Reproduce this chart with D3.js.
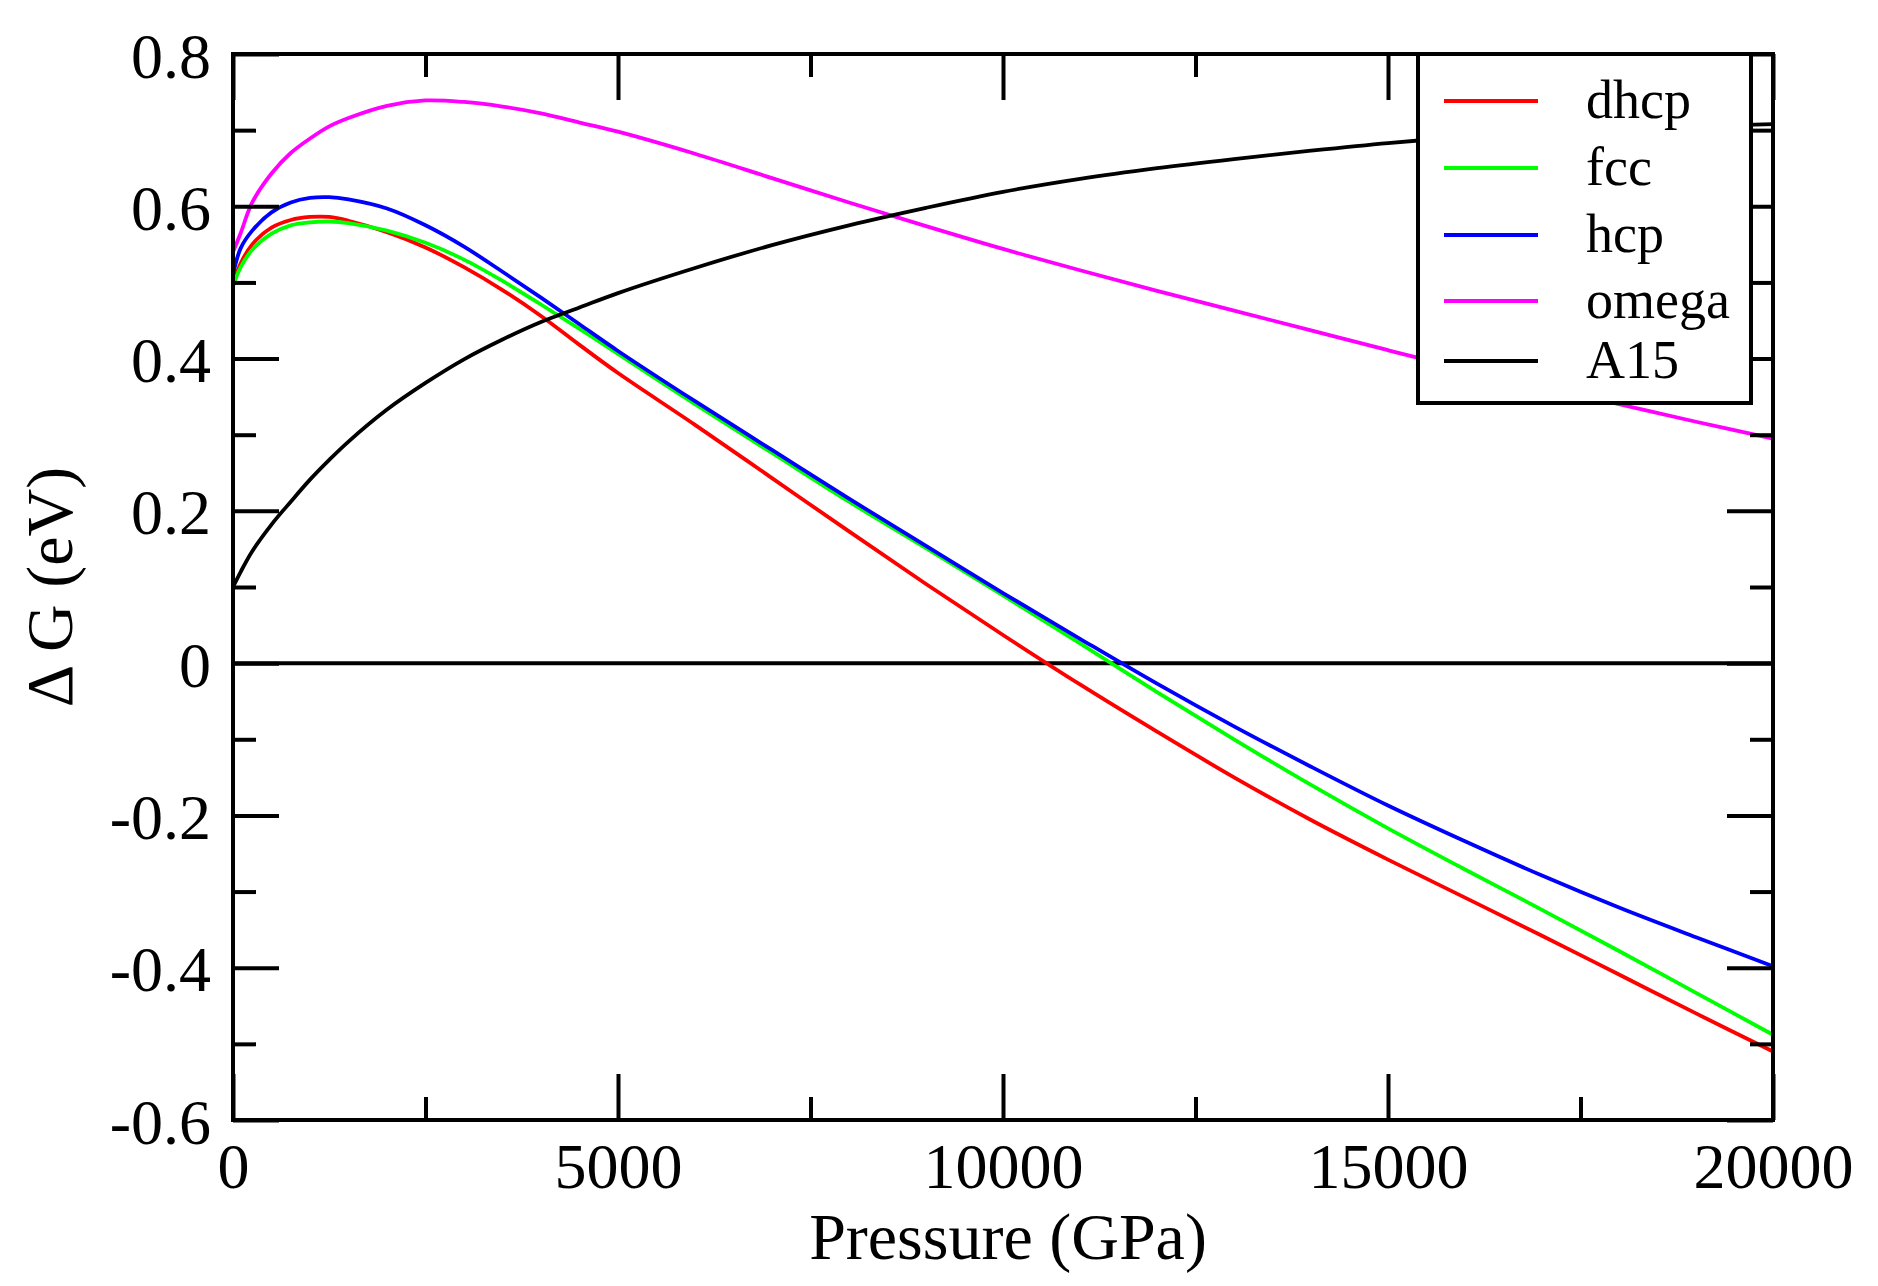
<!DOCTYPE html>
<html><head><meta charset="utf-8">
<script src="https://cdn.jsdelivr.net/npm/d3@7"></script>
<style>html,body{margin:0;padding:0;background:#fff;overflow:hidden;} svg{display:block;}</style>
</head><body>
<script>
// ---- data ----
const pressure = [0,100,250,500,750,1000,1250,1500,2000,2500,3000,3500,4000,4500,5000,6000,7000,8000,9000,10000,11000,12000,13000,14000,15000,16000,17000,18000,19000,20000];
const dhcp  = [0.497,0.525,0.550,0.572,0.582,0.586,0.586,0.581,0.566,0.546,0.520,0.490,0.456,0.418,0.381,0.313,0.243,0.173,0.104,0.037,-0.028,-0.090,-0.150,-0.206,-0.258,-0.308,-0.358,-0.409,-0.460,-0.510];
const fcc   = [0.495,0.520,0.543,0.564,0.575,0.579,0.580,0.578,0.568,0.552,0.530,0.502,0.471,0.439,0.406,0.340,0.276,0.212,0.151,0.089,0.026,-0.038,-0.100,-0.160,-0.217,-0.271,-0.324,-0.378,-0.433,-0.488];
const hcp   = [0.510,0.545,0.568,0.592,0.605,0.611,0.612,0.609,0.597,0.575,0.547,0.514,0.480,0.445,0.410,0.344,0.280,0.216,0.154,0.092,0.032,-0.027,-0.083,-0.136,-0.187,-0.234,-0.279,-0.321,-0.360,-0.398];
const omega = [0.540,0.565,0.605,0.643,0.670,0.689,0.705,0.716,0.732,0.739,0.737,0.731,0.722,0.710,0.698,0.669,0.637,0.605,0.574,0.544,0.516,0.489,0.463,0.437,0.411,0.386,0.363,0.340,0.317,0.295];
const a15   = [0.100,0.120,0.147,0.182,0.212,0.241,0.267,0.291,0.333,0.368,0.399,0.425,0.448,0.467,0.486,0.519,0.549,0.575,0.598,0.619,0.636,0.650,0.662,0.673,0.683,0.691,0.697,0.702,0.705,0.708];
const referenceLevel = 0;

const seriesNames  = ["dhcp","fcc","hcp","omega","A15"];
const seriesValues = [dhcp, fcc, hcp, omega, a15];
const seriesColors = ["#ff0000","#00ff00","#0000ff","#ff00ff","#000000"];

const xDomain = [0, 20000];
const yDomain = [-0.6, 0.8];
const xMajorTicks = [0,5000,10000,15000,20000];
const xMinorTicks = [2500,7500,12500,17500];
const yMajorTicks = [-0.6,-0.4,-0.2,0,0.2,0.4,0.6,0.8];
const yMinorTicks = [-0.5,-0.3,-0.1,0.1,0.3,0.5,0.7];
const xTitle = "Pressure (GPa)";
const yTitle = "\u0394 G (eV)";

// ---- layout ----
const W = 1878, H = 1286;
const margin = {left:233, top:54, right:105, bottom:166};
const iw = W - margin.left - margin.right;
const ih = H - margin.top - margin.bottom;
const FONT = "'Liberation Serif','Times New Roman',serif";

const svg = d3.select("body").append("svg").attr("width", W).attr("height", H);
const g = svg.append("g").attr("transform", `translate(${margin.left},${margin.top})`);

const x = d3.scaleLinear().domain(xDomain).range([0, iw]);
const y = d3.scaleLinear().domain(yDomain).range([ih, 0]);

const fmtY = d => d === 0 ? "0" : String(+d.toFixed(1));

// zero reference line (drawn first)
g.append("line")
  .attr("x1", x(xDomain[0])).attr("x2", x(xDomain[1]))
  .attr("y1", y(referenceLevel)).attr("y2", y(referenceLevel))
  .attr("stroke", "#000").attr("stroke-width", 4);

// series lines
const line = d3.line().x(d => x(d[0])).y(d => y(d[1])).curve(d3.curveCatmullRom.alpha(0.5));
seriesValues.forEach((vals, i) => {
  g.append("path")
    .datum(pressure.map((p, j) => [p, vals[j]]))
    .attr("fill", "none")
    .attr("stroke", seriesColors[i])
    .attr("stroke-width", 3.8)
    .attr("stroke-linejoin", "round")
    .attr("d", line);
});

// axes: ticks inward on all four sides
const MAJ = 46, MIN = 23;
function styleAxis(sel) {
  sel.select(".domain").remove();
  sel.selectAll(".tick line").attr("stroke", "#000").attr("stroke-width", 4);
  sel.selectAll("text").attr("font-family", FONT).attr("fill", "#000");
}
// bottom
g.append("g").attr("transform", `translate(0,${ih})`)
  .call(d3.axisBottom(x).tickValues(xMajorTicks).tickSizeInner(-MAJ).tickSizeOuter(0).tickPadding(23).tickFormat(d3.format("d")))
  .call(styleAxis)
  .call(s => s.selectAll("text").attr("font-size", 64));
g.append("g").attr("transform", `translate(0,${ih})`)
  .call(d3.axisBottom(x).tickValues(xMinorTicks).tickSizeInner(-MIN).tickSizeOuter(0).tickFormat(""))
  .call(styleAxis);
// top
g.append("g")
  .call(d3.axisTop(x).tickValues(xMajorTicks).tickSizeInner(-MAJ).tickSizeOuter(0).tickFormat(""))
  .call(styleAxis);
g.append("g")
  .call(d3.axisTop(x).tickValues(xMinorTicks).tickSizeInner(-MIN).tickSizeOuter(0).tickFormat(""))
  .call(styleAxis);
// left
g.append("g")
  .call(d3.axisLeft(y).tickValues(yMajorTicks).tickSizeInner(-MAJ).tickSizeOuter(0).tickPadding(22).tickFormat(fmtY))
  .call(styleAxis)
  .call(s => s.selectAll("text").attr("font-size", 64).attr("dy", "0.36em"));
g.append("g")
  .call(d3.axisLeft(y).tickValues(yMinorTicks).tickSizeInner(-MIN).tickSizeOuter(0).tickFormat(""))
  .call(styleAxis);
// right
g.append("g").attr("transform", `translate(${iw},0)`)
  .call(d3.axisRight(y).tickValues(yMajorTicks).tickSizeInner(-MAJ).tickSizeOuter(0).tickFormat(""))
  .call(styleAxis);
g.append("g").attr("transform", `translate(${iw},0)`)
  .call(d3.axisRight(y).tickValues(yMinorTicks).tickSizeInner(-MIN).tickSizeOuter(0).tickFormat(""))
  .call(styleAxis);

// frame
g.append("rect").attr("x", 0).attr("y", 0).attr("width", iw).attr("height", ih)
  .attr("fill", "none").attr("stroke", "#000").attr("stroke-width", 4);

// axis titles
svg.append("text")
  .attr("x", margin.left + iw / 2 + 5).attr("y", 1259)
  .attr("text-anchor", "middle").attr("font-family", FONT).attr("font-size", 66)
  .text(xTitle);
svg.append("text")
  .attr("transform", `translate(72,${margin.top + ih / 2}) rotate(-90)`)
  .attr("text-anchor", "middle").attr("font-family", FONT).attr("font-size", 66)
  .text(yTitle);

// legend
const legX0 = 1418, legX1 = 1751, legY0 = 54, legY1 = 403;
const legRowY = [101, 168, 235, 301, 361];
svg.append("rect").attr("x", legX0).attr("y", legY0)
  .attr("width", legX1 - legX0).attr("height", legY1 - legY0)
  .attr("fill", "#fff").attr("stroke", "#000").attr("stroke-width", 4);
seriesNames.forEach((name, i) => {
  svg.append("line").attr("x1", 1444).attr("x2", 1538)
    .attr("y1", legRowY[i]).attr("y2", legRowY[i])
    .attr("stroke", seriesColors[i]).attr("stroke-width", 4);
  svg.append("text").attr("x", 1586).attr("y", legRowY[i]).attr("dy", "0.32em")
    .attr("font-family", FONT).attr("font-size", 54).text(name);
});
</script>
</body></html>
